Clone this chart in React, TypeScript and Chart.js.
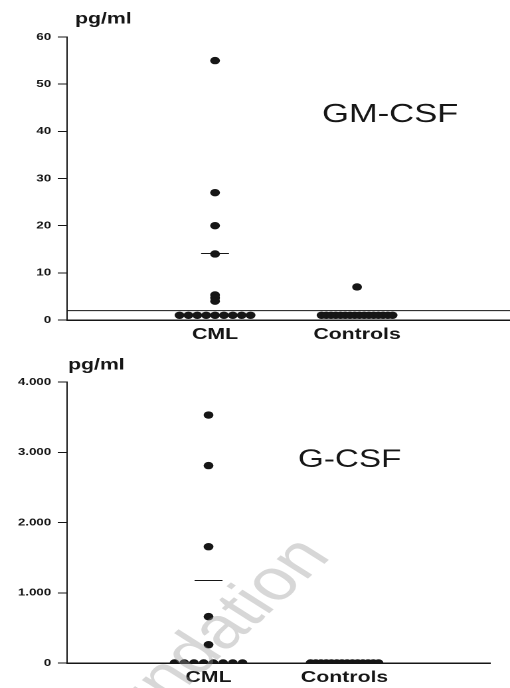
import React, { useEffect, useRef } from "react";
import { Chart, registerables } from "chart.js";

Chart.register(...registerables);

// ---------- data ----------
const groups = ["CML", "Controls"];

// GM-CSF, pg/ml
const gmCsfCml = [55, 27, 20, 14, 5.3, 4.7, 4, 1, 1, 1, 1, 1, 1, 1, 1, 1];
const gmCsfControls = [7, 1, 1, 1, 1, 1, 1, 1, 1, 1, 1, 1, 1, 1, 1, 1, 1];
const gmCsfMedians = [14.1];
const gmCsfLimit = 2;
const gmCsfTicks = [0, 10, 20, 30, 40, 50, 60];

// G-CSF, pg/ml
const gCsfCml = [3530, 2810, 1655, 660, 260, 0, 0, 0, 0, 0, 0, 0, 0];
const gCsfControls = [0, 0, 0, 0, 0, 0, 0, 0, 0, 0, 0, 0, 0, 0];
const gCsfMedians = [1175];
const gCsfTicks = [0, 1000, 2000, 3000, 4000];

// ---------- styling ----------
const INK = "#161616";
const SANS = '"Liberation Sans", Arial, Helvetica, sans-serif';
const LOGICAL_W = 384; // canvas drawn at this width, shown stretched to 510px
const BAND = 0.5; // width (in category units) over which tied values spread

function swarm(values: number[], center: number) {
  const counts = new Map<number, number>();
  values.forEach((v) => counts.set(v, (counts.get(v) || 0) + 1));
  const seen = new Map<number, number>();
  return values.map((v) => {
    const n = counts.get(v) || 1;
    const i = seen.get(v) || 0;
    seen.set(v, i + 1);
    const dx = n > 1 ? (i / (n - 1) - 0.5) * BAND : 0;
    return { x: center + dx, y: v };
  });
}

function fmt(v: number) {
  if (v >= 1000) {
    const th = Math.floor(v / 1000);
    const rest = String(v % 1000).padStart(3, "0");
    return `${th}.${rest}`;
  }
  return String(v);
}

type Panel = {
  cml: number[];
  controls: number[];
  medians: number[];
  limit: number | null;
  ticks: number[];
  yMax: number;
  xMin: number;
  xMax: number;
  padRight: number;
  height: number;
  title: string;
  titleX: number;
  titleBase: number;
  titleSize: number;
  unitX: number;
  unitBase: number;
  watermark: boolean;
};

const topPanel: Panel = {
  cml: gmCsfCml,
  controls: gmCsfControls,
  medians: gmCsfMedians,
  limit: gmCsfLimit,
  ticks: gmCsfTicks,
  yMax: 60,
  xMin: -0.042,
  xMax: 3.077,
  padRight: 0,
  height: 345,
  title: "GM-CSF",
  titleX: 242.5,
  titleBase: 122,
  titleSize: 26,
  unitX: 56.5,
  unitBase: 23.5,
  watermark: false,
};

const bottomPanel: Panel = {
  cml: gCsfCml,
  controls: gCsfControls,
  medians: gCsfMedians,
  limit: null,
  ticks: gCsfTicks,
  yMax: 4000,
  xMin: -0.04,
  xMax: 3.07,
  padRight: 15,
  height: 343,
  title: "G-CSF",
  titleX: 224.4,
  titleBase: 122,
  titleSize: 25,
  unitX: 51.2,
  unitBase: 24.5,
  watermark: true,
};

function annotate(p: Panel) {
  return {
    id: "annotate",
    afterDraw(chart: any) {
      const ctx = chart.ctx as CanvasRenderingContext2D;
      ctx.save();
      ctx.fillStyle = INK;
      ctx.textAlign = "left";
      ctx.textBaseline = "alphabetic";
      ctx.font = `bold 16px ${SANS}`;
      ctx.fillText("pg/ml", p.unitX, p.unitBase);
      ctx.font = `${p.titleSize}px ${SANS}`;
      ctx.fillText(p.title, p.titleX, p.titleBase);
      if (p.watermark) {
        ctx.translate(250, 212);
        ctx.rotate((-50 * Math.PI) / 180);
        ctx.textAlign = "right";
        ctx.font = `58px ${SANS}`;
        ctx.fillStyle = "rgba(150,150,150,0.38)";
        ctx.fillText("Foundation", 0, 0);
      }
      ctx.restore();
    },
  };
}

function buildConfig(p: Panel): any {
  const pointStyle = {
    pointRadius: 3.7,
    pointBackgroundColor: INK,
    pointBorderWidth: 0,
    showLine: false,
  };
  const datasets: any[] = [
    { label: groups[0], data: swarm(p.cml, 1), ...pointStyle },
    { label: groups[1], data: swarm(p.controls, 2), ...pointStyle },
    {
      label: "median",
      data: p.medians.map((m, i) => ({ x: i + 1, y: m })),
      pointStyle: "line",
      pointRadius: 10.5,
      pointBorderColor: INK,
      pointBorderWidth: 1,
      showLine: false,
    },
  ];
  if (p.limit !== null) {
    datasets.push({
      type: "line",
      label: "limit",
      data: [
        { x: p.xMin, y: p.limit },
        { x: p.xMax, y: p.limit },
      ],
      borderColor: INK,
      borderWidth: 1,
      pointRadius: 0,
    });
  }
  return {
    type: "scatter",
    data: { datasets },
    plugins: [annotate(p)],
    options: {
      animation: false,
      responsive: false,
      devicePixelRatio: 2,
      events: [],
      layout: {
        autoPadding: false,
        padding: { top: 37, left: 0, right: p.padRight, bottom: 0 },
      },
      plugins: { legend: { display: false }, tooltip: { enabled: false } },
      scales: {
        x: {
          type: "linear",
          min: p.xMin,
          max: p.xMax,
          afterBuildTicks: (s: any) => {
            s.ticks = groups.map((_, i) => ({ value: i + 1 }));
          },
          ticks: {
            callback: (v: number) => groups[Math.round(v) - 1] ?? "",
            font: { family: SANS, size: 16, weight: "bold" },
            color: INK,
            padding: -3,
            maxRotation: 0,
            autoSkip: false,
          },
          grid: { display: false },
          border: { display: true, color: INK, width: 1.5 },
          afterFit: (s: any) => {
            s.height = 25;
            s.paddingLeft = 0;
            s.paddingRight = 0;
          },
        },
        y: {
          type: "linear",
          min: 0,
          max: p.yMax,
          afterBuildTicks: (s: any) => {
            s.ticks = p.ticks.map((v) => ({ value: v }));
          },
          ticks: {
            callback: (v: number) => fmt(v),
            font: { family: SANS, size: 10, weight: "bold" },
            color: INK,
            padding: 5,
            autoSkip: false,
          },
          grid: {
            drawOnChartArea: false,
            drawTicks: true,
            tickLength: 7,
            color: INK,
            lineWidth: 1,
          },
          border: { display: true, color: INK, width: 1 },
          afterFit: (s: any) => {
            s.width = 50.5;
          },
        },
      },
    },
  };
}

function PanelChart({ panel, top }: { panel: Panel; top: number }) {
  const ref = useRef<HTMLCanvasElement | null>(null);
  useEffect(() => {
    if (!ref.current) return;
    const chart = new Chart(ref.current, buildConfig(panel));
    return () => chart.destroy();
  }, [panel]);
  return (
    <canvas
      ref={ref}
      width={LOGICAL_W}
      height={panel.height}
      style={{
        position: "absolute",
        left: 0,
        top,
        width: "510px",
        height: `${panel.height}px`,
        display: "block",
      }}
    />
  );
}

export default function App() {
  return (
    <div
      style={{
        position: "fixed",
        left: 0,
        top: 0,
        width: 510,
        height: 688,
        background: "#fff",
        overflow: "hidden",
      }}
    >
      <PanelChart panel={topPanel} top={0} />
      <PanelChart panel={bottomPanel} top={345} />
    </div>
  );
}
